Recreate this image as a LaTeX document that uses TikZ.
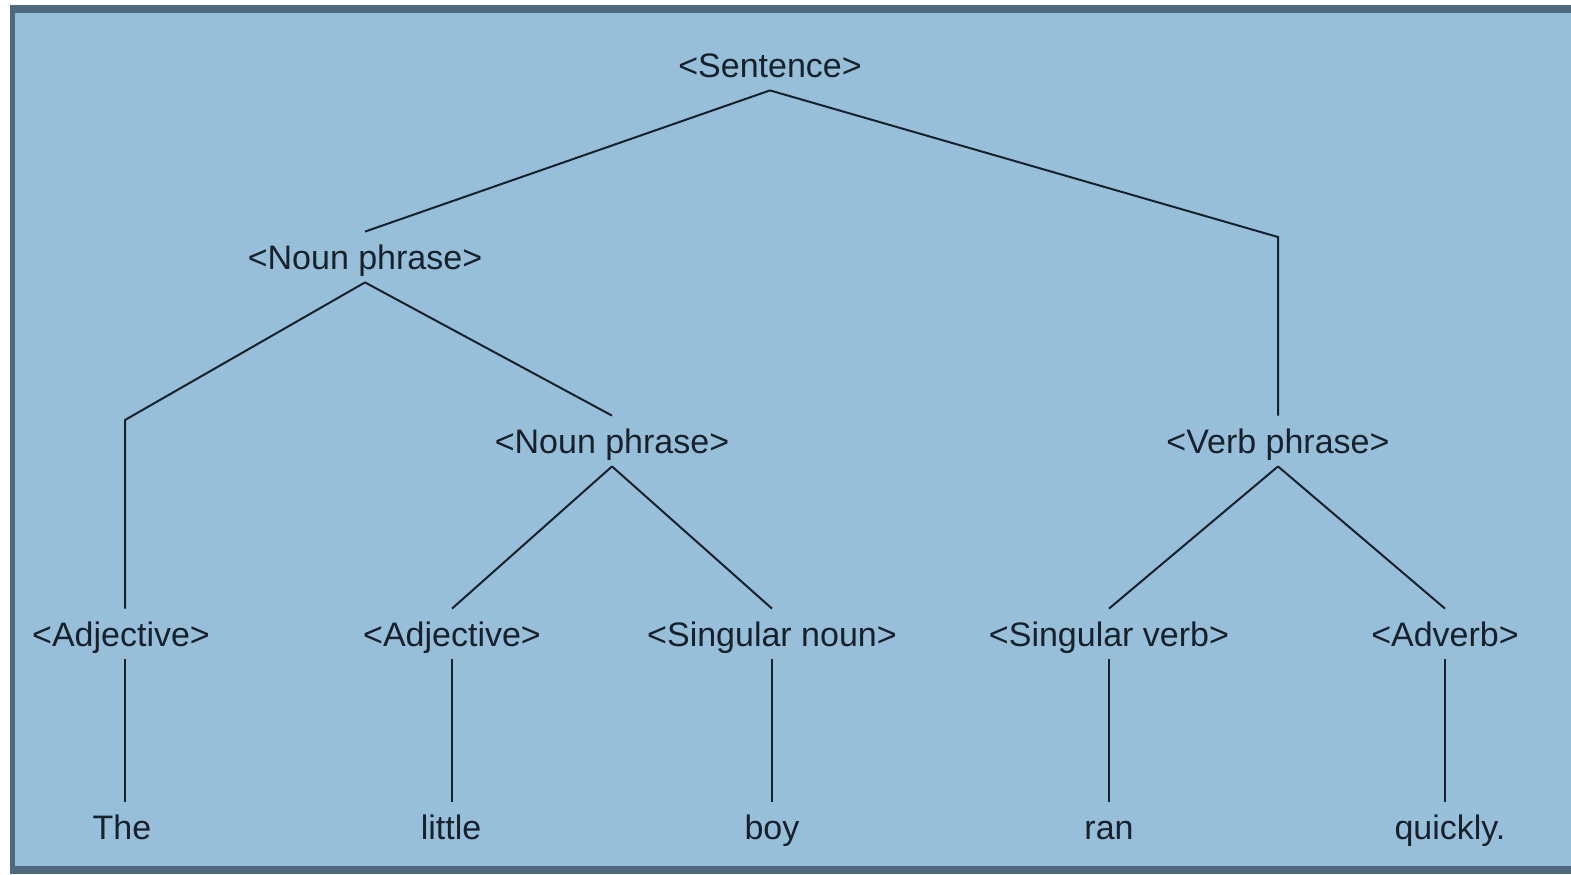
\documentclass[tikz,border=0pt]{standalone}
\usepackage{fontspec}
\setmainfont{Liberation Sans}
\definecolor{bg}{HTML}{98BFDA}
\definecolor{frame}{HTML}{50687E}
\definecolor{ink}{HTML}{17212B}
\begin{document}
\begin{tikzpicture}[x=0.5pt,y=-0.5pt,
  lbl/.style={inner sep=0pt, minimum height=25pt, text height=12pt, text depth=0pt,
    font=\fontsize{17pt}{20pt}\selectfont, text=ink},
  edge/.style={draw=ink, line width=1pt, line join=miter}]
\useasboundingbox (0,0) rectangle (1571,874);
\fill[white] (0,0) rectangle (1571,874);
\fill[frame] (10,5) rectangle (1571,874);
\fill[bg] (15,13) rectangle (1571,866);

\node[lbl] (s)   at (770,65)  {<Sentence>};
\node[lbl] (np1) at (365,257) {<Noun phrase>};
\node[lbl] (np2) at (612,441) {<Noun phrase>};
\node[lbl] (vp)  at (1278,441) {<Verb phrase>};
\node[lbl] (adj1) at (121,634) {<Adjective>};
\node[lbl] (adj2) at (452,634) {<Adjective>};
\node[lbl] (sn)  at (772,634) {<Singular noun>};
\node[lbl] (sv)  at (1109,634) {<Singular verb>};
\node[lbl] (adv) at (1445,634) {<Adverb>};
\node[lbl] (w1) at (122,827) {The};
\node[lbl] (w2) at (451,827) {little};
\node[lbl] (w3) at (772,827) {boy};
\node[lbl] (w4) at (1109,827) {ran};
\node[lbl] (w5) at (1450,827) {quickly.};

\coordinate (vpb) at (1278,237);
\coordinate (adjb) at (125,420);

\draw[edge] (s.south) -- (np1.north);
\draw[edge] (s.south) -- (vpb) -- (vp.north);
\draw[edge] (np1.south) -- (adjb) -- (adj1.north -| adjb);
\draw[edge] (np1.south) -- (np2.north);
\draw[edge] (np2.south) -- (adj2.north);
\draw[edge] (np2.south) -- (sn.north);
\draw[edge] (vp.south) -- (sv.north);
\draw[edge] (vp.south) -- (adv.north);
\draw[edge] (adj1.south -| adjb) -- (w1.north -| adjb);
\draw[edge] (adj2.south) -- (w2.north -| adj2.south);
\draw[edge] (sn.south) -- (w3.north);
\draw[edge] (sv.south) -- (w4.north);
\draw[edge] (adv.south) -- (w5.north -| adv.south);
\end{tikzpicture}
\end{document}
